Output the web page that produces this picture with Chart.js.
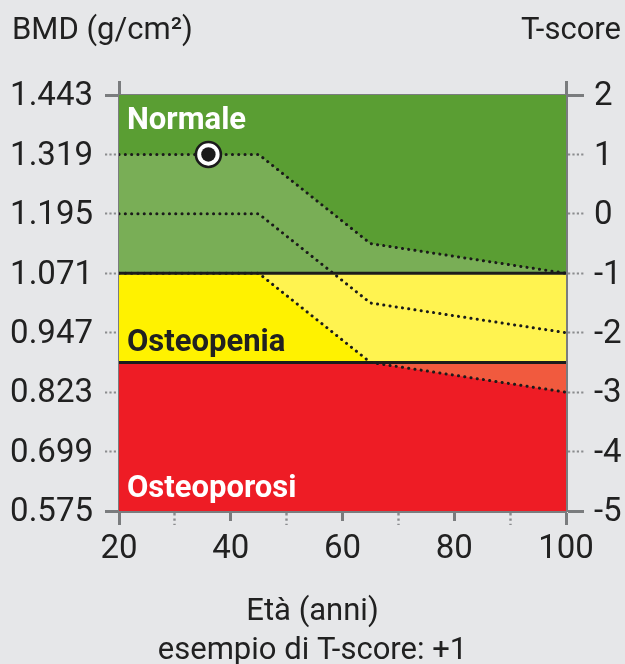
<!DOCTYPE html>
<html><head><meta charset="utf-8">
<script src="https://cdn.jsdelivr.net/npm/chart.js@4.4.0/dist/chart.umd.min.js"></script>
<style>
html,body{margin:0;padding:0;background:#e6e7e9;}
#wrap{width:625px;height:664px;position:relative;}
</style></head><body>
<div id="wrap"><canvas id="c" width="625" height="664"></canvas></div>
<script>
// ---- data ----
const ages = [20, 45, 65, 100];
const upperT = [1, 1, -0.5, -1];
const meanT = [0, 0, -1.5, -2];
const lowerT = [-1, -1, -2.5, -3];
const zoneEdgesT = [2, -1, -2.5, -5];
const zoneNames = ['Normale', 'Osteopenia', 'Osteoporosi'];
const patientAge = [36];
const patientT = [1];
const bmdTicks = [1.443, 1.319, 1.195, 1.071, 0.947, 0.823, 0.699, 0.575];
const tTicks = [2, 1, 0, -1, -2, -3, -4, -5];
const ageTicks = [20, 30, 40, 50, 60, 70, 80, 90, 100];
const ageLabels = ['20', '', '40', '', '60', '', '80', '', '100'];
const titles = { left: 'BMD (g/cm²)', right: 'T-score', x: ['Età (anni)', 'esempio di T-score: +1'] };

// ---- styles ----
const zoneColors = ['#5a9e33', '#fff200', '#ee1c25'];
const bandColors = ['#79ae56', '#fff350', '#f15a3e'];
const axisGray = '#7a7c7e';
const dotGray = '#8a8c8e';
const ink = '#212121';
const FONT = 'Roboto';
const TICK_SIZE = 33;
const TITLE_SIZE = 31;
const LABEL_SIZE = 31;

const pts = (xs, ys) => xs.map((x, i) => ({ x: x, y: ys[i] }));
const flat = (v) => [{ x: ages[0], y: v }, { x: ages[ages.length - 1], y: v }];

const datasets = [];
// zones (indices 0..3)
zoneEdgesT.forEach((e, i) => {
  datasets.push({
    data: flat(e),
    fill: i < zoneEdgesT.length - 1 ? '+1' : false,
    backgroundColor: zoneColors[i] || 'transparent',
    borderColor: (i === 1 || i === 2) ? '#1c1c1c' : 'transparent',
    borderWidth: (i === 1 || i === 2) ? 3 : 0,
    pointRadius: 0, order: 3
  });
});
const dotted = { borderColor: '#1a1a1a', borderWidth: 3, borderDash: [0.1, 6.2], borderCapStyle: 'round', pointRadius: 0, tension: 0 };
// band upper (4) fills to band lower (5)
datasets.push(Object.assign({}, dotted, {
  data: pts(ages, upperT), fill: { target: 5 }, order: 2,
  backgroundColor: (ctx) => {
    const chart = ctx.chart, area = chart.chartArea, sy = chart.scales.y;
    if (!area || !sy) return bandColors[0];
    const g = chart.ctx.createLinearGradient(0, area.top, 0, area.bottom);
    const h = area.bottom - area.top;
    const p1 = Math.min(1, Math.max(0, (sy.getPixelForValue(zoneEdgesT[1]) - area.top) / h));
    const p2 = Math.min(1, Math.max(0, (sy.getPixelForValue(zoneEdgesT[2]) - area.top) / h));
    g.addColorStop(0, bandColors[0]); g.addColorStop(p1, bandColors[0]);
    g.addColorStop(p1, bandColors[1]); g.addColorStop(p2, bandColors[1]);
    g.addColorStop(p2, bandColors[2]); g.addColorStop(1, bandColors[2]);
    return g;
  }
}));
datasets.push(Object.assign({}, dotted, { data: pts(ages, lowerT), fill: false, order: 2 }));
datasets.push(Object.assign({}, dotted, { data: pts(ages, meanT), fill: false, order: 1 }));
// patient point
datasets.push({ type: 'scatter', data: pts(patientAge, patientT), pointRadius: 12.5, pointBackgroundColor: '#ffffff', pointBorderColor: '#1b1b1b', pointBorderWidth: 2.6, order: 0 });
datasets.push({ type: 'scatter', data: pts(patientAge, patientT), pointRadius: 7.2, pointBackgroundColor: '#1b1b1b', pointBorderWidth: 0, order: -1 });
datasets.forEach(d => { d.xAxisID = 'x'; d.yAxisID = 'y'; });

const isEndT = (v) => v === tTicks[0] || v === tTicks[tTicks.length - 1];
const isEndB = (v) => v === bmdTicks[0] || v === bmdTicks[bmdTicks.length - 1];
const isEndA = (v) => v === ageTicks[0] || v === ageTicks[ageTicks.length - 1];

const textPlugin = {
  id: 'texts',
  afterDatasetsDraw(chart) {
    const { ctx, chartArea: a, scales } = chart;
    const sy = scales.y;
    ctx.save();
    ctx.font = 'bold ' + LABEL_SIZE + 'px ' + FONT;
    ctx.textAlign = 'left';
    ctx.textBaseline = 'middle';
    ctx.fillStyle = '#ffffff';
    ctx.fillText(zoneNames[0], a.left + 8, sy.getPixelForValue(zoneEdgesT[0]) + 26);
    ctx.fillStyle = ink;
    ctx.fillText(zoneNames[1], a.left + 8, sy.getPixelForValue(zoneEdgesT[2]) - 19);
    ctx.fillStyle = '#ffffff';
    ctx.fillText(zoneNames[2], a.left + 8, sy.getPixelForValue(zoneEdgesT[3]) - 22);
    ctx.restore();
  },
  afterDraw(chart) {
    const { ctx } = chart;
    ctx.save();
    ctx.font = TITLE_SIZE + 'px ' + FONT;
    ctx.fillStyle = ink;
    ctx.textBaseline = 'alphabetic';
    ctx.textAlign = 'left';
    ctx.fillText(titles.left, 12, 39);
    ctx.textAlign = 'right';
    ctx.fillText(titles.right, 621, 39);
    ctx.textAlign = 'center';
    ctx.fillText(titles.x[0], 312.5, 620);
    ctx.fillText(titles.x[1], 312.5, 659);
    ctx.restore();
  }
};

new Chart(document.getElementById('c'), {
  type: 'line',
  data: { datasets: datasets },
  options: {
    responsive: false,
    animation: false,
    events: [],
    layout: { padding: 0 },
    plugins: { legend: { display: false }, tooltip: { enabled: false }, filler: { drawTime: 'beforeDatasetsDraw', propagate: false } },
    scales: {
      x: {
        type: 'linear', position: 'bottom', min: ageTicks[0], max: ageTicks[ageTicks.length - 1],
        afterBuildTicks: (s) => { s.ticks = ageTicks.map(v => ({ value: v })); },
        afterFit: (s) => { s.height = 153; },
        ticks: { font: { family: FONT, size: TICK_SIZE }, color: ink, padding: 5, maxRotation: 0, autoSkip: false,
          callback: (v, i) => ageLabels[ageTicks.indexOf(v)] },
        grid: { drawOnChartArea: false, tickLength: 14,
          tickColor: (c) => (ageTicks.indexOf(c.tick.value) % 2 === 1) ? dotGray : axisGray,
          tickWidth: (c) => (ageTicks.indexOf(c.tick.value) % 2 === 1) ? 2.4 : 3,
          tickBorderDash: (c) => {
            const k = ageTicks.indexOf(c.tick.value);
            if (k % 2 === 1) return [2.4, 3];
            return isEndA(c.tick.value) ? [] : [8, 100];
          } },
        border: { display: true, color: axisGray, width: 3 },
        z: 1
      },
      xTop: {
        type: 'linear', position: 'top', min: ageTicks[0], max: ageTicks[ageTicks.length - 1],
        afterBuildTicks: (s) => { s.ticks = [ageTicks[0], ageTicks[ageTicks.length - 1]].map(v => ({ value: v })); },
        afterFit: (s) => { s.height = 95; },
        ticks: { display: false },
        grid: { drawOnChartArea: false, tickLength: 14, tickColor: axisGray, tickWidth: 3 },
        border: { display: true, color: axisGray, width: 3 },
        z: 1
      },
      yB: {
        type: 'linear', position: 'left', min: bmdTicks[bmdTicks.length - 1], max: bmdTicks[0],
        afterBuildTicks: (s) => { s.ticks = bmdTicks.map(v => ({ value: v })); },
        afterFit: (s) => { s.width = 119; },
        ticks: { font: { family: FONT, size: TICK_SIZE }, color: ink, padding: 12, labelOffset: 2, callback: (v) => v.toFixed(3) },
        grid: { drawOnChartArea: false, tickLength: 14,
          tickColor: (c) => isEndB(c.tick.value) ? axisGray : dotGray,
          tickWidth: (c) => isEndB(c.tick.value) ? 3 : 2.2,
          tickBorderDash: (c) => isEndB(c.tick.value) ? [] : [2.2, 2.2] },
        border: { display: true, color: axisGray, width: 3 },
        z: 1
      },
      y: {
        type: 'linear', position: 'right', min: tTicks[tTicks.length - 1], max: tTicks[0],
        afterBuildTicks: (s) => { s.ticks = tTicks.map(v => ({ value: v })); },
        afterFit: (s) => { s.width = 59; },
        ticks: { font: { family: FONT, size: TICK_SIZE }, color: ink, padding: 10, labelOffset: 2, callback: (v) => String(v) },
        grid: { drawOnChartArea: false, tickLength: 18,
          tickColor: (c) => isEndT(c.tick.value) ? axisGray : dotGray,
          tickWidth: (c) => isEndT(c.tick.value) ? 3 : 2.2,
          tickBorderDash: (c) => isEndT(c.tick.value) ? [] : [2.2, 2.2] },
        border: { display: true, color: axisGray, width: 3 },
        z: 1
      }
    }
  },
  plugins: [textPlugin]
});
</script>
</body></html>
